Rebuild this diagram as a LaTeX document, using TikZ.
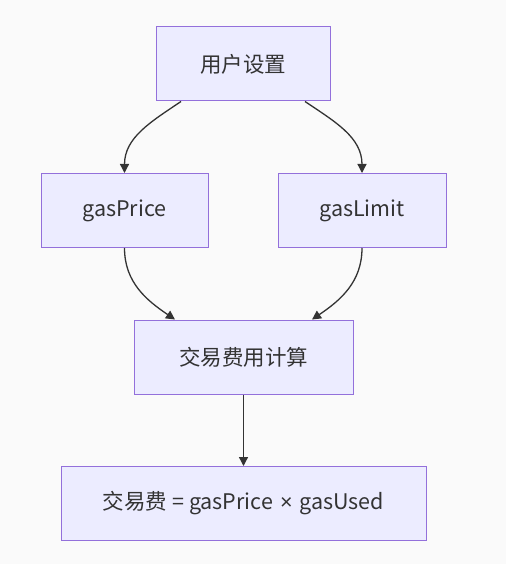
\documentclass[tikz,border=0pt]{standalone}
\usepackage{fontspec}
\setmainfont{Noto Sans CJK SC}
\newfontfamily\symfont{Liberation Sans}
\usetikzlibrary{arrows.meta,positioning}
\definecolor{boxfill}{HTML}{ECECFF}
\definecolor{boxline}{HTML}{9370DB}
\definecolor{edgegray}{HTML}{333333}
\definecolor{bggray}{HTML}{FAFAFA}

\begin{document}
\begin{tikzpicture}[x=1pt,y=1pt,node distance=146.5pt,>={Triangle[length=9pt,width=9pt]},
    flowbox/.style={draw=boxline,fill=boxfill,line width=1pt,minimum height=74pt,inner sep=0pt,
      text=edgegray,font=\fontsize{21.5pt}{25pt}\selectfont},
    flowedge/.style={->,draw=edgegray,line width=1.3pt}]
    \fill[bggray] (0,0) rectangle (506,-564);
    \useasboundingbox (0,0) rectangle (506,-564);

    \node (setup) [flowbox,minimum width=174pt] at (243,-64) {用户设置};
    \node (price) [flowbox,minimum width=167pt,below of=setup,xshift=-118.5pt] {gasPrice};
    \node (limit) [flowbox,minimum width=168pt,below of=setup,xshift=119pt] {gasLimit};
    \node (calc) [flowbox,minimum width=219pt,below of=price,xshift=119pt] {交易费用计算};
    \node (fee) [flowbox,minimum width=365pt,below of=calc] {交易费 = gasPrice\hspace{2pt} {\symfont×}\hspace{2pt} gasUsed};

    % \draw[flowedge] (setup) -- (price);
    \draw[flowedge] ([xshift=-62pt]setup.south) to[out=-146,in=90] (price.north);
    \draw[flowedge] ([xshift=62pt]setup.south) to[out=-34,in=90] (limit.north);

    \draw[flowedge] (price.south) to[out=-90,in=146] ([xshift=-68.5pt]calc.north);
    \draw[flowedge] (limit.south) to[out=-90,in=34] ([xshift=68.5pt]calc.north);

    \draw[flowedge] (calc) -- (fee);
\end{tikzpicture}
\end{document}
